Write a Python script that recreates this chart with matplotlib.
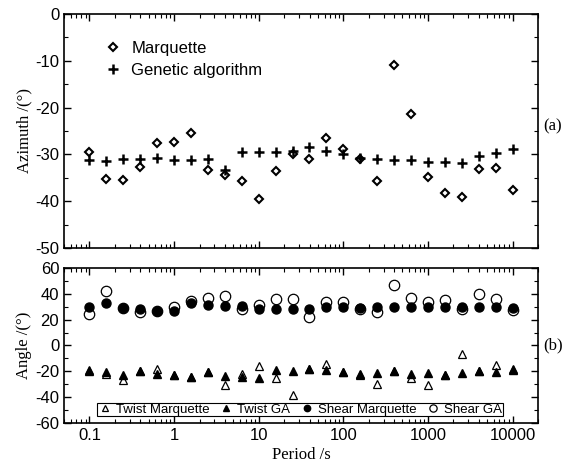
import numpy as np
import matplotlib
matplotlib.use("Agg")
import matplotlib.pyplot as plt
from matplotlib.ticker import LogLocator, MultipleLocator, FixedLocator, FixedFormatter

# ---------- data ----------
period = [0.1, 0.158, 0.251, 0.398, 0.631, 1, 1.58, 2.51, 3.98, 6.31,
          10, 15.8, 25.1, 39.8, 63.1, 100, 158, 251, 398, 631,
          1000, 1585, 2512, 3981, 6310, 10000]

az_marq = [-29.4, -35.3, -35.4, -32.8, -27.5, -27.3, -25.5, -33.4, -34.5, -35.6,
           -39.6, -33.6, -30.0, -30.9, -26.5, -28.9, -30.9, -35.6, -11.0, -21.3,
           -34.8, -38.3, -39.2, -33.2, -33.0, -37.6]
az_ga = [-31.3, -31.5, -31.0, -31.0, -30.8, -31.3, -31.1, -31.0, -33.3, -29.5,
         -29.5, -29.5, -29.3, -28.4, -29.2, -30.0, -30.7, -30.9, -31.1, -31.3,
         -31.6, -31.7, -31.8, -30.3, -29.6, -28.9]

twist_marq = [-19.0, -22.0, -27.0, -19.5, -18.0, -23.1, -24.2, -20.5, -30.6, -22.0,
              -15.6, -25.5, -38.5, -18.0, -14.6, -20.3, -23.0, -29.8, -19.8, -25.5,
              -30.9, -22.9, -6.6, -19.5, -15.1, -18.5]
twist_ga = [-19.5, -20.8, -22.6, -19.5, -22.0, -23.1, -24.2, -20.5, -23.4, -24.2,
            -25.5, -19.0, -19.5, -18.0, -19.0, -20.3, -22.3, -21.3, -19.8, -22.3,
            -21.6, -22.9, -21.6, -19.5, -20.3, -19.0]
shear_marq = [30.1, 32.7, 28.8, 28.3, 27.0, 27.0, 32.7, 31.6, 30.6, 30.6,
              28.0, 28.0, 28.3, 28.5, 29.6, 30.0, 29.0, 29.6, 30.1, 30.1,
              30.1, 30.1, 29.6, 30.1, 30.1, 29.0]
shear_ga = [24.2, 42.5, 28.8, 25.7, 27.0, 29.6, 34.7, 36.6, 38.4, 28.0,
            31.6, 35.8, 36.3, 21.8, 34.0, 33.5, 28.0, 25.7, 46.9, 36.6,
            34.0, 35.3, 28.0, 39.9, 35.8, 27.5]

x_ticks = [0.1, 1, 10, 100, 1000, 10000]
x_labels = ["0.1", "1", "10", "100", "1000", "10000"]

# ---------- plot ----------
plt.rcParams["font.family"] = ["Liberation Sans", "DejaVu Sans"]
plt.rcParams["axes.unicode_minus"] = False
plt.rcParams["xtick.direction"] = "in"
plt.rcParams["ytick.direction"] = "in"

fig = plt.figure(figsize=(5.73, 4.75), dpi=100)
ax1 = fig.add_axes([0.1117, 0.478, 0.8273, 0.4925])
ax2 = fig.add_axes([0.1117, 0.1095, 0.8273, 0.3263])

serif = ["Liberation Serif", "DejaVu Serif"]

ax1.plot(period, az_marq, ls="none", marker="D", ms=4.5, mfc="white", mec="black",
         mew=1.5, label="Marquette")
ax1.plot(period, az_ga, ls="none", marker="+", ms=7, mec="black", mew=1.8,
         label="Genetic algorithm")
ax1.set_ylim(-50, 0)
ax1.yaxis.set_major_locator(MultipleLocator(10))
ax1.yaxis.set_minor_locator(MultipleLocator(5))
ax1.set_ylabel("Azimuth /(°)", family=serif, fontsize=12, labelpad=2)
ax1.legend(loc="upper left", bbox_to_anchor=(0.065, 0.92), frameon=False,
           fontsize=12, handletextpad=0.5, labelspacing=0.4, borderpad=0,
           handlelength=1.2)
ax1.text(1.012, 0.52, "(a)", transform=ax1.transAxes, family=serif, fontsize=12,
         va="center")

ax2.plot(period, twist_marq, ls="none", marker="^", ms=6, mfc="white", mec="black",
         mew=0.9, label="Twist Marquette")
ax2.plot(period, twist_ga, ls="none", marker="^", ms=6, mfc="black", mec="black",
         label="Twist GA")
ax2.plot(period, shear_marq, ls="none", marker="o", ms=6.5, mfc="black", mec="black",
         label="Shear Marquette")
ax2.plot(period, shear_ga, ls="none", marker="o", ms=7.5, mfc="none", mec="black",
         mew=0.9, label="Shear GA")
ax2.set_ylim(-60, 60)
ax2.yaxis.set_major_locator(MultipleLocator(20))
ax2.yaxis.set_minor_locator(MultipleLocator(10))
ax2.set_ylabel("Angle /(°)", family=serif, fontsize=12, labelpad=2)
ax2.set_xlabel("Period /s", family=serif, fontsize=12, labelpad=3)
leg = ax2.legend(loc="lower left", bbox_to_anchor=(0.055, 0.0), ncol=4,
                 fontsize=9.5, handletextpad=0.3, columnspacing=0.7, borderpad=0.05,
                 handlelength=1.1, markerscale=0.7, fancybox=False,
                 framealpha=1, edgecolor="black")
leg.get_frame().set_linewidth(0.8)
ax2.text(1.012, 0.5, "(b)", transform=ax2.transAxes, family=serif, fontsize=12,
         va="center")

for ax in (ax1, ax2):
    ax.set_xscale("log")
    ax.set_xlim(0.05, 20000)
    ax.xaxis.set_major_locator(FixedLocator(x_ticks))
    ax.xaxis.set_minor_locator(LogLocator(base=10, subs=np.arange(2, 10), numticks=20))
    ax.tick_params(which="both", top=True, right=True, labelsize=12)
    ax.tick_params(which="major", length=5, width=1)
    ax.tick_params(which="minor", length=3, width=0.8)
    for s in ax.spines.values():
        s.set_linewidth(1.2)

ax1.xaxis.set_major_formatter(FixedFormatter([""] * len(x_ticks)))
ax1.xaxis.set_minor_formatter(plt.NullFormatter())
ax2.xaxis.set_major_formatter(FixedFormatter(x_labels))
ax2.xaxis.set_minor_formatter(plt.NullFormatter())

fig.savefig("out.png", dpi=100)
